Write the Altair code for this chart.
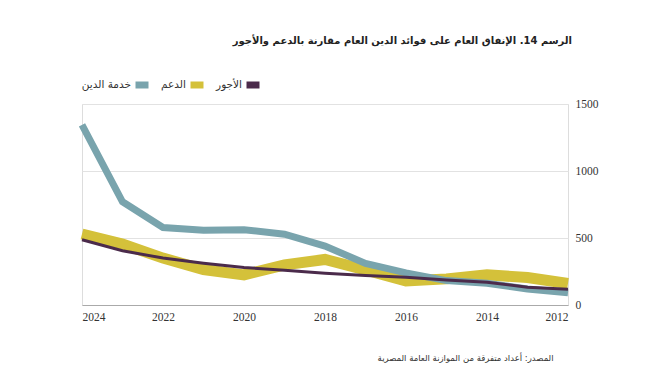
import altair as alt
import pandas as pd

years = [2024, 2023, 2022, 2021, 2020, 2019, 2018, 2017, 2016, 2015, 2014, 2013, 2012]
debt_service = [1345, 770, 578, 557, 562, 528, 440, 310, 240, 182, 162, 120, 92]
subsidies = [530, 455, 350, 265, 225, 300, 340, 262, 180, 195, 225, 205, 160]
wages = [487, 405, 350, 312, 280, 260, 237, 220, 207, 187, 170, 133, 117]

series_names = ["خدمة الدين", "الدعم", "الأجور"]
series_colors = ["#79a4ad", "#d4c13a", "#4b2b4b"]
series_widths = [7, 11, 3]
x_ticks = [2024, 2022, 2020, 2018, 2016, 2014, 2012]
y_ticks = [0, 500, 1000, 1500]

title_text = "الرسم 14. الإنفاق العام على فوائد الدين العام مقارنة بالدعم والأجور"
source_text = "المصدر: أعداد متفرقة من الموازنة العامة المصرية"

rows = []
for name, vals in zip(series_names, [debt_service, subsidies, wages]):
    for yr, v in zip(years, vals):
        rows.append({"year": yr, "value": v, "series": name})
df = pd.DataFrame(rows)

color = alt.Color(
    "series:N",
    scale=alt.Scale(domain=series_names, range=series_colors),
    legend=alt.Legend(
        title=None,
        orient="none",
        direction="horizontal",
        legendX=50,
        legendY=-29,
        symbolType="stroke",
        symbolSize=169,
        symbolStrokeWidth=7,
        labelFont="DejaVu Sans",
        labelFontSize=10.5,
        labelColor="#333333",
        labelAlign="right",
        labelOffset={"expr": "-21"},
        columnPadding={"expr": "-2"},
    ),
)

x = alt.X(
    "year:Q",
    scale=alt.Scale(domain=[2012, 2024], reverse=True, nice=False, zero=False),
    axis=alt.Axis(
        values=x_ticks,
        format="d",
        grid=False,
        ticks=False,
        domain=True,
        domainColor="#aaaaaa",
        labelFont="Liberation Serif",
        labelFontSize=11.5,
        labelColor="#333333",
        labelPadding=6,
        title=source_text,
        titleFont="DejaVu Sans",
        titleFontSize=8.5,
        titleFontWeight="normal",
        titleColor="#333333",
        titleX=471,
        titleY=52,
        titleAlign="right",
        titleBaseline="middle",
    ),
)
y = alt.Y(
    "value:Q",
    scale=alt.Scale(domain=[0, 1500], nice=False),
    axis=alt.Axis(
        orient="right",
        values=y_ticks,
        format="d",
        ticks=False,
        domain=False,
        gridColor="#e2e2e2",
        labelFont="Liberation Serif",
        labelFontSize=11.5,
        labelColor="#333333",
        labelPadding=7,
        title=None,
    ),
)

layers = []
for idx in [1, 0, 2]:
    layers.append(
        alt.Chart(df)
        .transform_filter(alt.datum.series == series_names[idx])
        .mark_line(strokeWidth=series_widths[idx])
        .encode(x=x, y=y, color=color)
    )

chart = (
    alt.layer(*layers)
    .properties(
        width=486,
        height=201,
        autosize=alt.AutoSizeParams(type="none"),
        padding={"left": 74, "top": 96, "right": 74, "bottom": 73},
        title=alt.TitleParams(
            text=title_text,
            anchor="end",
            frame="group",
            font="DejaVu Sans",
            fontSize=10,
            fontWeight="bold",
            color="#222222",
            offset=29,
            dx=4,
        ),
    )
    .configure_view(stroke=None)
    .configure(background="white")
)

chart.save("out.html", embed_options={"renderer": "svg", "actions": False})
